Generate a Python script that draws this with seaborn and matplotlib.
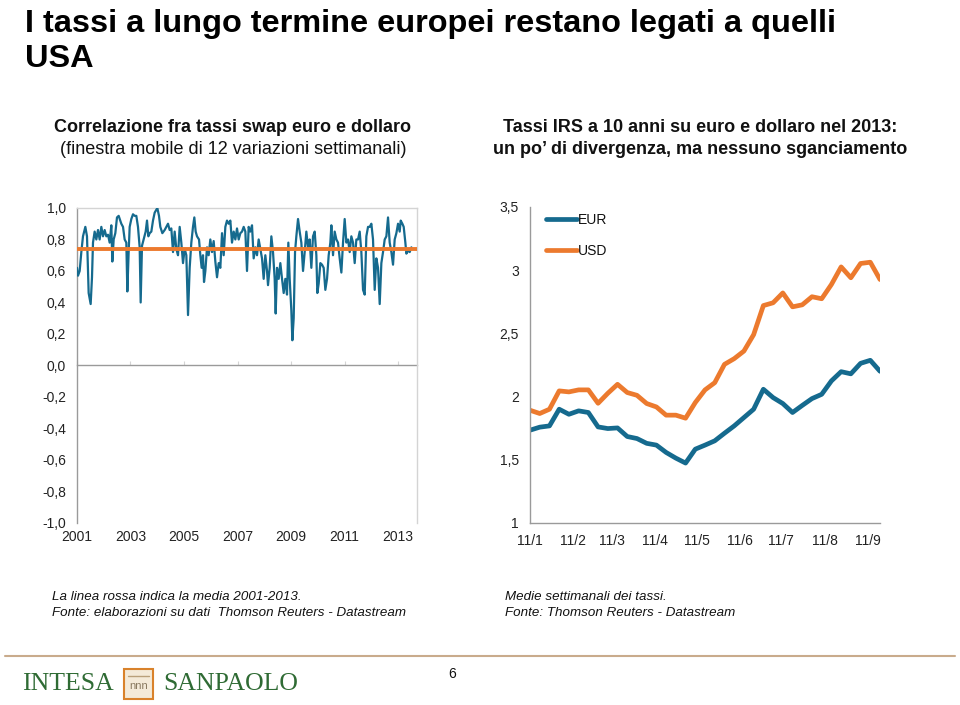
import numpy as np
import pandas as pd
import matplotlib
matplotlib.use("Agg")
import matplotlib.pyplot as plt
from matplotlib.lines import Line2D
from matplotlib.patches import Rectangle
import seaborn as sns

# ---------------- data ----------------
corr_year = [2001.000, 2001.037, 2001.100, 2001.162, 2001.224, 2001.312, 2001.374, 2001.436, 2001.511, 2001.561,
             2001.598, 2001.660, 2001.723, 2001.785, 2001.847, 2001.910, 2001.972, 2002.034, 2002.097, 2002.159,
             2002.221, 2002.283, 2002.321, 2002.371, 2002.433, 2002.495, 2002.558, 2002.657, 2002.720, 2002.782,
             2002.844, 2002.882, 2002.931, 2002.969, 2003.031, 2003.093, 2003.156, 2003.218, 2003.280, 2003.343,
             2003.380, 2003.430, 2003.492, 2003.567, 2003.617, 2003.667, 2003.717, 2003.779, 2003.841, 2003.903,
             2004.003, 2004.065, 2004.115, 2004.190, 2004.277, 2004.340, 2004.402, 2004.464, 2004.526, 2004.589,
             2004.651, 2004.713, 2004.776, 2004.838, 2004.900, 2004.963, 2005.025, 2005.087, 2005.150, 2005.212,
             2005.274, 2005.336, 2005.386, 2005.436, 2005.486, 2005.561, 2005.611, 2005.660, 2005.710, 2005.748,
             2005.798, 2005.860, 2005.922, 2005.984, 2006.047, 2006.109, 2006.171, 2006.234, 2006.296, 2006.358,
             2006.421, 2006.483, 2006.545, 2006.607, 2006.670, 2006.732, 2006.794, 2006.857, 2006.919, 2006.981,
             2007.044, 2007.106, 2007.168, 2007.231, 2007.293, 2007.355, 2007.417, 2007.480, 2007.542, 2007.604,
             2007.667, 2007.729, 2007.791, 2007.854, 2007.916, 2007.978, 2008.040, 2008.103, 2008.140, 2008.202,
             2008.265, 2008.327, 2008.389, 2008.427, 2008.477, 2008.539, 2008.601, 2008.664, 2008.726, 2008.788,
             2008.850, 2008.900, 2008.950, 2009.012, 2009.050, 2009.100, 2009.150, 2009.199, 2009.262, 2009.324,
             2009.386, 2009.449, 2009.511, 2009.573, 2009.636, 2009.698, 2009.760, 2009.822, 2009.885, 2009.947,
             2009.984, 2010.034, 2010.097, 2010.159, 2010.221, 2010.283, 2010.346, 2010.408, 2010.470, 2010.508,
             2010.570, 2010.632, 2010.695, 2010.757, 2010.819, 2010.882, 2010.944, 2011.006, 2011.069, 2011.131,
             2011.193, 2011.255, 2011.318, 2011.380, 2011.442, 2011.505, 2011.567, 2011.629, 2011.692, 2011.754,
             2011.816, 2011.879, 2011.941, 2012.003, 2012.065, 2012.128, 2012.190, 2012.252, 2012.315, 2012.377,
             2012.439, 2012.502, 2012.564, 2012.626, 2012.688, 2012.751, 2012.813, 2012.875, 2012.938, 2013.000,
             2013.062, 2013.100, 2013.162, 2013.212, 2013.274, 2013.312, 2013.374, 2013.436, 2013.500]
corr_value = [0.62, 0.57, 0.60, 0.72, 0.82, 0.88, 0.82, 0.46, 0.39, 0.56,
              0.78, 0.85, 0.80, 0.86, 0.80, 0.88, 0.82, 0.86, 0.82, 0.83,
              0.78, 0.89, 0.66, 0.80, 0.84, 0.94, 0.95, 0.90, 0.88, 0.80,
              0.78, 0.47, 0.72, 0.88, 0.93, 0.96, 0.95, 0.95, 0.88, 0.75,
              0.40, 0.76, 0.80, 0.85, 0.92, 0.82, 0.84, 0.85, 0.92, 0.97,
              1.00, 0.95, 0.88, 0.84, 0.86, 0.88, 0.90, 0.86, 0.87, 0.72,
              0.85, 0.74, 0.70, 0.88, 0.78, 0.65, 0.74, 0.70, 0.32, 0.62,
              0.78, 0.88, 0.94, 0.85, 0.82, 0.80, 0.70, 0.62, 0.70, 0.53,
              0.60, 0.75, 0.70, 0.80, 0.72, 0.79, 0.66, 0.56, 0.65, 0.62,
              0.84, 0.70, 0.88, 0.92, 0.90, 0.92, 0.78, 0.85, 0.80, 0.87,
              0.80, 0.84, 0.85, 0.88, 0.85, 0.60, 0.88, 0.85, 0.89, 0.68,
              0.75, 0.70, 0.80, 0.74, 0.68, 0.55, 0.70, 0.60, 0.51, 0.62,
              0.82, 0.72, 0.55, 0.33, 0.62, 0.55, 0.65, 0.55, 0.46, 0.55,
              0.45, 0.78, 0.55, 0.35, 0.16, 0.30, 0.72, 0.82, 0.93, 0.85,
              0.78, 0.60, 0.72, 0.85, 0.75, 0.80, 0.62, 0.82, 0.85, 0.70,
              0.46, 0.52, 0.65, 0.64, 0.62, 0.48, 0.55, 0.70, 0.78, 0.89,
              0.70, 0.85, 0.80, 0.78, 0.68, 0.59, 0.78, 0.93, 0.78, 0.80,
              0.72, 0.82, 0.78, 0.65, 0.80, 0.80, 0.85, 0.72, 0.48, 0.45,
              0.82, 0.88, 0.88, 0.90, 0.80, 0.48, 0.68, 0.62, 0.39, 0.65,
              0.72, 0.80, 0.82, 0.94, 0.78, 0.72, 0.64, 0.80, 0.84, 0.90,
              0.85, 0.92, 0.90, 0.88, 0.78, 0.71, 0.73, 0.72, 0.75]
corr_mean = 0.74

left_yticks = [1.0, 0.8, 0.6, 0.4, 0.2, 0.0, -0.2, -0.4, -0.6, -0.8, -1.0]
left_ylabels = ["1,0", "0,8", "0,6", "0,4", "0,2", "0,0", "-0,2", "-0,4", "-0,6", "-0,8", "-1,0"]
left_xticks = [2001, 2003, 2005, 2007, 2009, 2011, 2013]
left_xlabels = ["2001", "2003", "2005", "2007", "2009", "2011", "2013"]

irs_dates = pd.date_range("2013-01-11", periods=37, freq="7D")
eur = [1.734, 1.758, 1.768, 1.900, 1.860, 1.887, 1.874, 1.760, 1.747, 1.752,
       1.684, 1.668, 1.630, 1.616, 1.558, 1.513, 1.474, 1.584, 1.616, 1.650,
       1.710, 1.768, 1.834, 1.900, 2.058, 1.992, 1.945, 1.874, 1.930, 1.984,
       2.018, 2.124, 2.197, 2.180, 2.263, 2.287, 2.200]
usd = [1.892, 1.866, 1.900, 2.045, 2.037, 2.053, 2.053, 1.947, 2.026, 2.097,
       2.032, 2.010, 1.945, 1.918, 1.853, 1.853, 1.829, 1.953, 2.053, 2.110,
       2.255, 2.300, 2.360, 2.490, 2.720, 2.742, 2.820, 2.710, 2.726, 2.790,
       2.774, 2.887, 3.026, 2.940, 3.053, 3.063, 2.926]
right_yticks = [1, 1.5, 2, 2.5, 3, 3.5]
right_ylabels = ["1", "1,5", "2", "2,5", "3", "3,5"]
right_xticks = pd.to_datetime(["2013-01-11", "2013-02-11", "2013-03-11", "2013-04-11", "2013-05-11",
                               "2013-06-11", "2013-07-11", "2013-08-11", "2013-09-11"])
right_xlabels = ["11/1", "11/2", "11/3", "11/4", "11/5", "11/6", "11/7", "11/8", "11/9"]

# ---------------- style ----------------
sns.set_style("white")
plt.rcParams["font.family"] = ["Liberation Sans", "DejaVu Sans"]
plt.rcParams["text.color"] = "#111111"
plt.rcParams["xtick.labelcolor"] = "#222222"
plt.rcParams["ytick.labelcolor"] = "#222222"
BLUE = "#156a8e"
ORANGE = "#ec7a2e"
AXGRAY = "#9a9a9a"
LIGHTGRAY = "#d4d4d4"
NARROW = ["Liberation Sans Narrow", "Liberation Sans", "DejaVu Sans"]

fig = plt.figure(figsize=(9.6, 7.05), dpi=100)

# ---------------- left chart ----------------
ax1 = fig.add_axes([0.0802, 0.2582, 0.3542, 0.4468])
sns.lineplot(x=corr_year, y=corr_value, ax=ax1, color=BLUE, lw=1.6, zorder=3)
ax1.axhline(corr_mean, color=ORANGE, lw=2.8, zorder=4)
ax1.set_xlim(2001, 2013.71)
ax1.set_ylim(-1, 1)
ax1.set_yticks(left_yticks, left_ylabels)
ax1.set_xticks(left_xticks, left_xlabels)
ax1.tick_params(axis="y", length=3, color=AXGRAY, width=0.8, labelsize=10, pad=5)
ax1.tick_params(axis="x", length=0, labelsize=10, pad=5)
for s in ["top", "right"]:
    ax1.spines[s].set_color(LIGHTGRAY)
    ax1.spines[s].set_linewidth(1.0)
ax1.spines["left"].set_color(AXGRAY)
ax1.spines["left"].set_linewidth(1.0)
ax1.spines["bottom"].set_visible(False)
sec = ax1.secondary_xaxis(0, transform=ax1.transData)
sec.set_xticks(left_xticks)
sec.tick_params(axis="x", direction="in", length=3, color=LIGHTGRAY, labelbottom=False)
sec.spines["bottom"].set_color(AXGRAY)
sec.spines["bottom"].set_linewidth(1.0)
ax1.set_xlabel("")
ax1.set_ylabel("")

# ---------------- right chart ----------------
ax2 = fig.add_axes([0.5521, 0.2582, 0.3646, 0.4482])
df = pd.DataFrame({
    "data": list(irs_dates) * 2,
    "tasso": eur + usd,
    "serie": ["EUR"] * len(eur) + ["USD"] * len(usd),
})
sns.lineplot(data=df, x="data", y="tasso", hue="serie", palette={"EUR": BLUE, "USD": ORANGE},
             lw=3.4, ax=ax2)
ax2.set_xlim(irs_dates[0], irs_dates[-1])
ax2.set_ylim(1, 3.5)
ax2.set_yticks(right_yticks, right_ylabels)
ax2.set_xticks(right_xticks, right_xlabels)
ax2.tick_params(axis="both", length=3, color=AXGRAY, width=0.8, labelsize=10, pad=5)
for s in ["top", "right"]:
    ax2.spines[s].set_visible(False)
for s in ["left", "bottom"]:
    ax2.spines[s].set_color(AXGRAY)
    ax2.spines[s].set_linewidth(1.0)
ax2.set_xlabel("")
ax2.set_ylabel("")
leg = ax2.legend(loc="upper left", bbox_to_anchor=(0.01, 1.02), frameon=False, fontsize=10,
                 handlelength=2.2, handletextpad=0.1, labelspacing=1.2)
for h in leg.legend_handles:
    h.set_linewidth(3.4)

# ---------------- texts ----------------
fig.text(25 / 960, 1 - 9 / 705, "I tassi a lungo termine europei restano legati a quelli\nUSA",
         ha="left", va="top", fontsize=23.4, fontweight="bold", linespacing=1.2, color="black")

fig.text(233 / 960, 1 - 127 / 705, "Correlazione fra tassi swap euro e dollaro",
         ha="center", va="center", fontsize=13, fontweight="bold", family=NARROW)
fig.text(233 / 960, 1 - 150 / 705, "(finestra mobile di 12 variazioni settimanali)",
         ha="center", va="center", fontsize=13, family=NARROW)
fig.text(700 / 960, 1 - 127 / 705, "Tassi IRS a 10 anni su euro e dollaro nel 2013:",
         ha="center", va="center", fontsize=13, fontweight="bold", family=NARROW)
fig.text(700 / 960, 1 - 150 / 705, "un po\u2019 di divergenza, ma nessuno sganciamento",
         ha="center", va="center", fontsize=13, fontweight="bold", family=NARROW)

fig.text(52 / 960, 1 - 597 / 705, "La linea rossa indica la media 2001-2013.",
         ha="left", va="center", fontsize=9.6, style="italic", family=NARROW)
fig.text(52 / 960, 1 - 613 / 705, "Fonte: elaborazioni su dati  Thomson Reuters - Datastream",
         ha="left", va="center", fontsize=9.6, style="italic", family=NARROW)
fig.text(505 / 960, 1 - 597 / 705, "Medie settimanali dei tassi.",
         ha="left", va="center", fontsize=9.6, style="italic", family=NARROW)
fig.text(505 / 960, 1 - 613 / 705, "Fonte: Thomson Reuters - Datastream",
         ha="left", va="center", fontsize=9.6, style="italic", family=NARROW)

# footer
fig.add_artist(Line2D([5 / 960, 955 / 960], [1 - 656 / 705] * 2, color="#c9ab8c", lw=1.5))
GREEN = "#2f6b34"
fig.text(22 / 960, 1 - 684 / 705, "INTESA", ha="left", va="center", fontsize=18.5,
         color=GREEN, family=["Liberation Serif", "DejaVu Serif"])
fig.text(163 / 960, 1 - 684 / 705, "SANPAOLO", ha="left", va="center", fontsize=18.5,
         color=GREEN, family=["Liberation Serif", "DejaVu Serif"])
fig.add_artist(Rectangle((124 / 960, 1 - 699 / 705), 29 / 960, 30 / 705,
                         facecolor="#f4ead8", edgecolor="#d9822b", lw=1.5))
fig.add_artist(Line2D([128 / 960, 149 / 960], [1 - 676 / 705] * 2, color="#b9a07a", lw=1))
fig.text(138.5 / 960, 1 - 686 / 705, "nnn", ha="center", va="center", fontsize=8, color="#8a7a60")
fig.text(452 / 960, 1 - 674 / 705, "6", ha="center", va="center", fontsize=10)

fig.savefig("out.png", dpi=100)
